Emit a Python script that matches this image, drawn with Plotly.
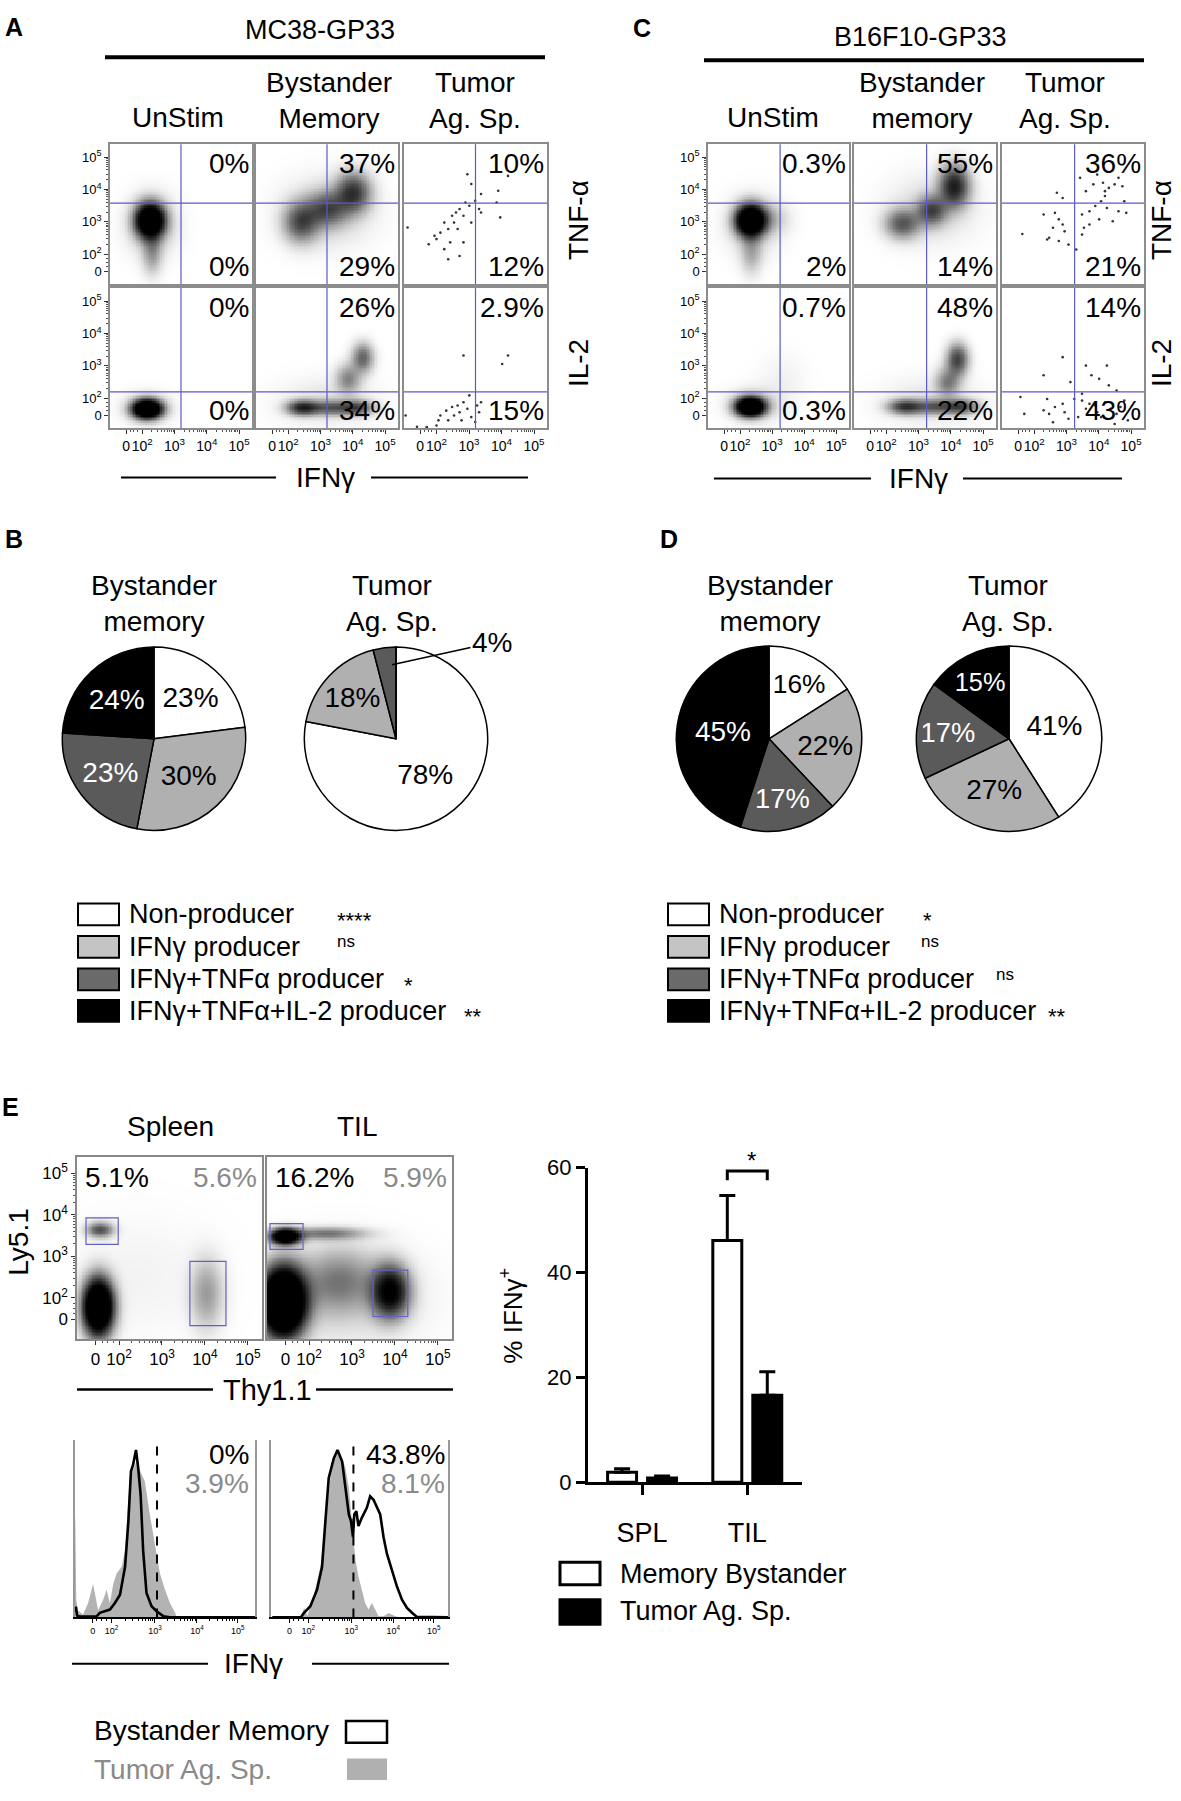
import numpy as np
import plotly.graph_objects as go

W, H = 1181, 1801
FONT = "Liberation Sans, Arial, Helvetica, sans-serif"

# ======================= DATA =======================
# ---- Panels A / C : intracellular cytokine dot plots (axis units = display decades) ----
A_title = "MC38-GP33"
C_title = "B16F10-GP33"
A_col_titles = ["UnStim", "Bystander<br>Memory", "Tumor<br>Ag. Sp."]
C_col_titles = ["UnStim", "Bystander<br>memory", "Tumor<br>Ag. Sp."]
row_markers = ["TNF-α", "IL-2"]
A_upper_pct = [["0%", "37%", "10%"], ["0%", "26%", "2.9%"]]
A_lower_pct = [["0%", "29%", "12%"], ["0%", "34%", "15%"]]
C_upper_pct = [["0.3%", "55%", "36%"], ["0.7%", "48%", "14%"]]
C_lower_pct = [["2%", "14%", "21%"], ["0.3%", "22%", "43%"]]
flow_tick_text = ["0", "10<sup>2</sup>", "10<sup>3</sup>", "10<sup>4</sup>", "10<sup>5</sup>"]
flow_x_ticks = [1.5, 2.0, 3, 4, 5]
flow_y_ticks = [1.48, 2.0, 3, 4, 5]
A_ifng_gate = 3.2
C_ifng_gate = 3.25
row_gates = [3.58, 2.2]          # TNF-α gate, IL-2 gate

# populations: (centre x, centre y, spread x, spread y, density)
A_r1c1_pops = [(2.24, 3.05, 0.28, 0.33, 1.7), (2.3, 2.1, 0.2, 0.45, 0.25), (2.3, 2.9, 0.5, 0.6, 0.14)]
A_r1c2_pops = [(4.0, 3.9, 0.35, 0.4, 0.6), (3.2, 3.4, 0.4, 0.35, 0.45), (2.4, 3.0, 0.35, 0.4, 0.5),
               (3.2, 3.3, 0.9, 0.7, 0.1)]
A_r2c1_pops = [(2.15, 1.68, 0.28, 0.18, 1.9), (2.15, 1.7, 0.45, 0.3, 0.15)]
A_r2c2_pops = [(2.45, 1.72, 0.32, 0.15, 0.7), (3.3, 1.72, 0.4, 0.15, 0.4), (4.1, 1.72, 0.35, 0.15, 0.5),
               (3.85, 2.6, 0.25, 0.3, 0.3), (4.3, 3.25, 0.22, 0.3, 0.42), (3.2, 1.9, 1.0, 0.5, 0.06)]
C_r1c1_pops = [(2.32, 3.05, 0.28, 0.3, 1.7), (2.7, 3.1, 0.45, 0.3, 0.2), (2.35, 2.1, 0.22, 0.45, 0.2),
               (2.4, 2.9, 0.55, 0.6, 0.1)]
C_r1c2_pops = [(4.1, 4.1, 0.3, 0.42, 0.72), (3.4, 3.35, 0.3, 0.3, 0.5), (2.5, 2.95, 0.35, 0.3, 0.45),
               (3.4, 3.4, 0.9, 0.7, 0.08)]
C_r2c1_pops = [(2.32, 1.75, 0.28, 0.18, 1.9), (2.4, 1.8, 0.5, 0.32, 0.15), (3.3, 2.5, 0.5, 0.6, 0.03)]
C_r2c2_pops = [(2.6, 1.75, 0.35, 0.15, 0.6), (3.5, 1.75, 0.4, 0.15, 0.4), (4.3, 1.75, 0.35, 0.15, 0.5),
               (3.9, 2.5, 0.25, 0.3, 0.32), (4.2, 3.2, 0.22, 0.32, 0.55), (3.4, 1.9, 1.0, 0.5, 0.06)]

# sparse "Tumor Ag. Sp." events
A_r1c3_x = [2.95, 3.07, 4.2, 3.9, 3.37, 2.89, 3.01, 3.19, 3.31, 2.71, 2.6, 2.48, 2.83, 2.24, 2.36, 2.12, 2.0, 1.76,
            2.24, 2.71, 2.83, 2.65, 2.54, 1.11, 3.96, 3.85, 3.37, 3.07, 2.36, 1.94, 2.42]
A_r1c3_y = [4.47, 4.17, 4.42, 3.96, 3.86, 3.6, 3.5, 3.65, 3.4, 3.4, 3.29, 3.19, 3.19, 2.98, 2.78, 2.67, 2.47, 2.31,
            2.16, 1.95, 2.37, 2.78, 2.98, 2.83, 3.14, 3.6, 3.29, 2.98, 1.85, 2.57, 2.37]
A_r2c3_x = [2.83, 4.2, 4.02, 1.05, 1.7, 2.06, 2.12, 2.3, 2.48, 2.65, 2.71, 2.83, 2.95, 3.01, 3.07, 3.25, 3.31, 3.37,
            2.54, 2.36, 2.0, 2.77, 3.19, 1.4]
A_r2c3_y = [3.32, 3.32, 3.06, 1.47, 1.11, 1.32, 1.47, 1.62, 1.73, 1.78, 1.57, 1.88, 1.68, 2.09, 1.42, 1.78, 1.57, 1.88,
            1.47, 1.32, 1.16, 1.32, 1.27, 1.12]
C_r1c3_x = [1.63, 2.29, 2.46, 2.64, 2.76, 2.88, 2.58, 2.94, 2.76, 2.4, 3.06, 3.3, 2.88, 2.7, 3.48, 3.71, 3.89, 4.07,
            4.19, 4.31, 4.49, 4.61, 4.13, 3.83, 3.6, 3.71, 4.01, 4.25, 4.43, 4.61, 4.79, 4.85, 3.54, 3.48, 3.42, 3.95,
            4.19, 4.73]
C_r1c3_y = [2.63, 3.23, 2.51, 3.28, 3.08, 2.92, 2.82, 2.71, 2.41, 2.46, 2.3, 2.15, 3.74, 3.9, 3.23, 3.33, 3.49, 3.64,
            3.8, 4.05, 4.16, 4.36, 4.21, 4.16, 3.95, 2.92, 3.08, 3.43, 3.02, 3.33, 3.64, 3.28, 2.82, 2.61, 4.36, 4.46,
            3.95, 4.1]
C_r2c3_x = [2.88, 3.6, 4.25, 3.77, 4.01, 4.31, 4.55, 2.29, 2.4, 3.12, 1.57, 1.69, 2.29, 2.46, 2.64, 2.88, 2.94, 3.06,
            3.24, 3.48, 3.6, 3.71, 3.89, 3.95, 4.07, 4.19, 4.37, 4.55, 4.67, 4.79, 4.9, 3.36, 2.58, 4.49, 3.48]
C_r2c3_y = [3.27, 3.01, 3.01, 2.71, 2.6, 2.4, 2.24, 2.71, 1.98, 2.5, 2.04, 1.52, 1.63, 1.52, 1.73, 1.83, 1.57, 1.37,
            1.98, 1.93, 1.68, 1.83, 1.78, 1.57, 1.42, 1.88, 1.68, 1.52, 1.73, 1.93, 1.32, 1.42, 1.26, 1.21, 2.14]

# ---- Panels B / D : pies ----
pie_labels = ["Non-producer", "IFNγ producer", "IFNγ+TNFα producer", "IFNγ+TNFα+IL-2 producer"]
B_bystander = [23, 30, 23, 24]
B_tumor = [78, 18, 4, 0]
D_bystander = [16, 22, 17, 45]
D_tumor = [41, 27, 17, 15]
B_sig = ["****", "ns", "*", "**"]
D_sig = ["*", "ns", "ns", "**"]
pie_titles = ["Bystander<br>memory", "Tumor<br>Ag. Sp."]

# ---- Panel E : Ly5.1 / Thy1.1 plots ----
E_titles = ["Spleen", "TIL"]
E_pct_black = ["5.1%", "16.2%"]
E_pct_grey = ["5.6%", "5.9%"]
E_spleen_pops = [(1.52, 1.78, 0.22, 0.42, 2.0), (1.56, 3.64, 0.2, 0.12, 0.5), (4.05, 2.1, 0.25, 0.55, 0.24),
                 (2.5, 2.5, 1.2, 1.0, 0.025)]
E_til_pops = [(1.4, 1.9, 0.32, 0.5, 2.5), (1.45, 3.48, 0.22, 0.12, 1.6), (2.4, 3.55, 0.6, 0.1, 0.35),
              (3.9, 2.15, 0.28, 0.4, 1.0), (2.7, 2.4, 0.6, 0.5, 0.3), (2.8, 2.0, 1.2, 0.8, 0.08)]
# gates: (x0, x1, y0, y1)
E_spleen_gates = [(1.23, 1.98, 3.29, 3.93), (3.65, 4.49, 1.33, 2.88)]
E_til_gates = [(1.09, 1.86, 3.17, 3.79), (3.49, 4.30, 1.55, 2.67)]

# ---- Panel E : IFNγ histograms (% of max) ----
hist_tick_pos = [1.52, 1.97, 3, 4, 4.97]
hist_gate = 3.05
E_hist_black_pct = ["0%", "43.8%"]
E_hist_grey_pct = ["3.9%", "8.1%"]
HL_black_x = [1.10, 1.12, 1.15, 1.21, 1.61, 1.69, 1.93, 2.05, 2.17, 2.29, 2.37, 2.43, 2.48, 2.55, 2.60, 2.66, 2.72,
              2.80, 2.92, 3.04, 3.20, 3.36, 5.38]
HL_black_y = [3, 6, 1, 0.5, 0.5, 2.6, 4.4, 8.1, 12.8, 28.5, 54.4, 82.2, 85.9, 94.3, 85, 69.3, 37.8, 13.7, 6.3, 3.5,
              0.7, 0, 0]
HL_grey_x = [1.10, 1.11, 1.13, 1.17, 1.29, 1.41, 1.53, 1.65, 1.77, 1.85, 1.93, 2.01, 2.09, 2.21, 2.29, 2.40, 2.48,
             2.56, 2.64, 2.76, 2.88, 2.96, 3.04, 3.12, 3.24, 3.36, 3.48, 3.52]
HL_grey_y = [58, 50, 10, 4, 1.5, 8, 19, 4, 10, 15.6, 8, 19, 24.8, 28.5, 37.8, 78.5, 83, 87.8, 83, 76.7, 57.8, 47, 34,
             24.8, 15.6, 8, 2.6, 0]
HR_black_x = [1.11, 1.79, 1.87, 2.02, 2.18, 2.30, 2.38, 2.46, 2.58, 2.67, 2.78, 2.86, 2.94, 2.99, 3.04, 3.07, 3.12,
              3.17, 3.25, 3.37, 3.45, 3.53, 3.61, 3.69, 3.77, 3.85, 3.97, 4.09, 4.21, 4.33, 4.45, 4.56, 5.32]
HR_black_y = [0, 0, 2.6, 6.3, 15.6, 28.5, 54.4, 78.5, 89.6, 94.3, 87.8, 72.9, 58, 54.4, 45.2, 58, 59.8, 51.5, 56.1,
              61.7, 68.2, 66.3, 61.7, 58, 45.2, 35.9, 26.6, 17.4, 10, 5.4, 2.6, 0.4, 0]
HR_grey_x = [1.11, 1.79, 1.87, 1.95, 2.10, 2.26, 2.38, 2.50, 2.58, 2.67, 2.78, 2.86, 2.94, 3.02, 3.10, 3.17, 3.25,
             3.33, 3.41, 3.49, 3.57, 3.65, 3.77, 3.89, 4.05, 4.17, 5.32]
HR_grey_y = [0, 0, 5.4, 1, 12, 28.5, 52.6, 78.5, 87.8, 92.4, 89.6, 84.1, 72.9, 54.4, 32.2, 23, 15.6, 8.1, 4.4, 8.1,
             4.4, 0.7, 0.7, 2.5, 0.7, 0, 0]
hist_legend = ["Bystander Memory", "Tumor Ag. Sp."]

# ---- Panel E : bar chart ----
bar_groups = ["SPL", "TIL"]
mem_mean = [1.9, 46.1]
mem_err = [0.7, 8.6]
tum_mean = [0.8, 16.6]
tum_err = [0.4, 4.5]
bar_ticks = [0, 20, 40, 60]
bar_sig_y = [57.6, 59.4]
bar_sig_text = "*"
bar_legend = ["Memory Bystander", "Tumor Ag. Sp."]

# ======================= BUILD =======================
def PX(px):
    return px / W


def PY(py):
    return 1 - py / H


layout = dict(width=W, height=H, margin=dict(l=0, r=0, t=0, b=0), paper_bgcolor="white",
              plot_bgcolor="white", showlegend=False, font=dict(family=FONT, color="black"),
              barmode="group", bargap=0.24, bargroupgap=0.275)
traces, shapes, annots = [], [], []
axn = [0]


def new_axes(x0, x1, y0, y1, xcfg, ycfg):
    axn[0] += 1
    s = "" if axn[0] == 1 else str(axn[0])
    layout["xaxis" + s] = dict(domain=[PX(x0), PX(x1)], anchor="y" + s, **xcfg)
    layout["yaxis" + s] = dict(domain=[PY(y1), PY(y0)], anchor="x" + s, **ycfg)
    return "x" + s, "y" + s


def txt(text, x, y, size=27, color="black", xanchor="center", yanchor="middle", angle=0, xref="paper", yref="paper"):
    if xref == "paper":
        x = PX(x)
    if yref == "paper":
        y = PY(y)
    annots.append(dict(text=text, x=x, y=y, xref=xref, yref=yref, xanchor=xanchor, yanchor=yanchor,
                       showarrow=False, textangle=angle, font=dict(size=size, color=color, family=FONT)))


def hline(x0, x1, y, w=3, color="black"):
    shapes.append(dict(type="line", xref="paper", yref="paper", x0=PX(x0), x1=PX(x1), y0=PY(y), y1=PY(y),
                       line=dict(color=color, width=w)))


def rect(x0, x1, y0, y1, fill, lw, lc="black"):
    shapes.append(dict(type="rect", xref="paper", yref="paper", x0=PX(x0), x1=PX(x1), y0=PY(y1), y1=PY(y0),
                       fillcolor=fill, line=dict(color=lc, width=lw)))


minor_vals = [d + np.log10(k) for d in (2, 3, 4) for k in range(2, 10)] + [1.62, 1.74, 1.86]

GREY = [[0, "rgb(255,255,255)"], [0.04, "rgb(236,236,236)"], [0.15, "rgb(190,190,190)"],
        [0.35, "rgb(120,120,120)"], [0.6, "rgb(55,55,55)"], [0.85, "rgb(12,12,12)"], [1, "rgb(0,0,0)"]]


def density(pops, xr, yr, n):
    xs = np.linspace(xr[0], xr[1], n)
    ys = np.linspace(yr[0], yr[1], n)
    X, Y = np.meshgrid(xs, ys)
    Z = np.zeros_like(X)
    for cx, cy, sx, sy, w in pops:
        Z += w * np.exp(-0.5 * (((X - cx) / sx) ** 2 + ((Y - cy) / sy) ** 2))
    return xs, ys, np.round(np.clip(Z, 0, 1), 3)


def flow_axis(rng, ticks, show, size, frame="#8c8c8c"):
    return dict(range=rng, tickmode="array", tickvals=ticks, ticktext=flow_tick_text, showticklabels=show,
                tickangle=0, ticks="outside" if show else "", ticklen=4, tickwidth=1, tickcolor="#333",
                showline=True, linecolor=frame, linewidth=1.5, mirror=True, showgrid=False, zeroline=False,
                fixedrange=True, tickfont=dict(size=size, color="black", family=FONT),
                minor=dict(tickmode="array", tickvals=minor_vals, ticks="outside" if show else "", ticklen=2,
                           tickcolor="#555", showgrid=False))


FXR, FYR = [1.0, 5.4], [1.08, 5.4]


def flow_panel(x0, x1, y0, y1, pops, pts, gx, gy, up, lo, show_x, show_y):
    xa, ya = new_axes(x0, x1, y0, y1, flow_axis(FXR, flow_x_ticks, show_x, 14),
                      flow_axis(FYR, flow_y_ticks, show_y, 13))
    if pops:
        xs, ys, z = density(pops, FXR, FYR, 90)
        traces.append(go.Heatmap(x=xs, y=ys, z=z, xaxis=xa, yaxis=ya, colorscale=GREY, zmin=0, zmax=1,
                                 showscale=False, hoverinfo="skip"))
    if pts:
        traces.append(go.Scatter(x=pts[0], y=pts[1], mode="markers", xaxis=xa, yaxis=ya, hoverinfo="skip",
                                 marker=dict(size=2.6, color="#333333")))
    qc = "#5b5bc6"
    shapes.append(dict(type="line", xref=xa, yref=ya + " domain", x0=gx, x1=gx, y0=0, y1=1,
                       line=dict(color=qc, width=1.2)))
    shapes.append(dict(type="line", xref=xa + " domain", yref=ya, x0=0, x1=1, y0=gy, y1=gy,
                       line=dict(color=qc, width=1.2)))
    txt(up, 0.995, 0.99, 28, xanchor="right", yanchor="top", xref=xa + " domain", yref=ya + " domain")
    txt(lo, 0.995, 0.0, 28, xanchor="right", yanchor="bottom", xref=xa + " domain", yref=ya + " domain")


A_cols_px = [(110, 252), (256, 398), (404, 547)]
C_cols_px = [(708, 849), (854, 996), (1002, 1144)]
rows_px = [(134, 276), (280, 422)]
A_pops = [[A_r1c1_pops, A_r1c2_pops, None], [A_r2c1_pops, A_r2c2_pops, None]]
A_pts = [[None, None, (A_r1c3_x, A_r1c3_y)], [None, None, (A_r2c3_x, A_r2c3_y)]]
C_pops = [[C_r1c1_pops, C_r1c2_pops, None], [C_r2c1_pops, C_r2c2_pops, None]]
C_pts = [[None, None, (C_r1c3_x, C_r1c3_y)], [None, None, (C_r2c3_x, C_r2c3_y)]]

for r in range(2):
    for c in range(3):
        flow_panel(*A_cols_px[c], *rows_px[r], A_pops[r][c], A_pts[r][c], A_ifng_gate, row_gates[r],
                   A_upper_pct[r][c], A_lower_pct[r][c], r == 1, c == 0)
        flow_panel(*C_cols_px[c], *rows_px[r], C_pops[r][c], C_pts[r][c], C_ifng_gate, row_gates[r],
                   C_upper_pct[r][c], C_lower_pct[r][c], r == 1, c == 0)

# headers A / C
txt("<b>A</b>", 3, 15, 25, xanchor="left")
txt("<b>C</b>", 642, 16, 25)
txt(A_title, 320, 18, 27)
txt(C_title, 920, 25, 27)
hline(105, 545, 46, 4)
hline(704, 1144, 49, 4)
for c in range(3):
    txt(A_col_titles[c], [178, 329, 475][c], 107 if c == 0 else 90, 28)
    txt(C_col_titles[c], [773, 922, 1065][c], 107 if c == 0 else 90, 28)
for r, yy in enumerate([211, 356]):
    txt(row_markers[r], 578, yy, 28, angle=-90)
    txt(row_markers[r], 1161, yy, 28, angle=-90)
txt("IFNγ", 325, 472, 28)
hline(121, 276, 472, 2)
hline(371, 528, 472, 2)
txt("IFNγ", 918, 473, 28)
hline(714, 871, 473, 2)
hline(963, 1122, 473, 2)

# ---- pies ----
PIE_COLORS = ["#ffffff", "#b0b0b0", "#5a5a5a", "#000000"]
TXT_COLORS = ["black", "black", "white", "white"]


def pie(vals, cx, cy, r, texts):
    traces.append(go.Pie(values=vals, labels=pie_labels, sort=False, direction="clockwise", rotation=0,
                         domain=dict(x=[PX(cx - r), PX(cx + r)], y=[PY(cy + r), PY(cy - r)]),
                         marker=dict(colors=PIE_COLORS, line=dict(color="black", width=1.5)),
                         text=texts, textinfo="text", textposition="inside", insidetextorientation="horizontal",
                         textfont=dict(size=28, color=TXT_COLORS, family=FONT), hoverinfo="skip",
                         showlegend=False))


pct = lambda vs: [f"{v}%" for v in vs]
pie(B_bystander, 154, 737, 93, pct(B_bystander))
pie(B_tumor, 396, 737, 93, ["78%", "18%", "", ""])
pie(D_bystander, 769, 737, 94, pct(D_bystander))
pie(D_tumor, 1009, 737, 94, pct(D_tumor))
annots.append(dict(text=f"{B_tumor[2]}%", x=PX(392), y=PY(662), xref="paper", yref="paper", showarrow=True,
                   arrowhead=0, arrowwidth=1.5, arrowcolor="black", ax=100, ay=-22, xanchor="center",
                   font=dict(size=28, family=FONT, color="black")))
txt("<b>B</b>", 14, 534, 25)
txt("<b>D</b>", 669, 534, 25)
txt(pie_titles[0], 154, 600, 28)
txt(pie_titles[1], 392, 600, 28)
txt(pie_titles[0], 770, 600, 28)
txt(pie_titles[1], 1008, 600, 28)

LEG_FILL = ["#ffffff", "#c4c4c4", "#6a6a6a", "#000000"]
leg_rows = [915, 948, 981, 1013]
for i, yy in enumerate(leg_rows):
    rect(78, 119, yy - 11, yy + 11, LEG_FILL[i], 2)
    txt(pie_labels[i], 127, yy, 27, xanchor="left")
    rect(668, 709, yy - 11, yy + 11, LEG_FILL[i], 2)
    txt(pie_labels[i], 717, yy, 27, xanchor="left")
B_sig_x = [335, 335, 402, 462]
D_sig_x = [921, 919, 994, 1046]
for i, yy in enumerate(leg_rows):
    small = B_sig[i] == "ns"
    txt(B_sig[i], B_sig_x[i], yy + (-5 if small else 6), 17 if small else 22, xanchor="left")
    small = D_sig[i] == "ns"
    txt(D_sig[i], D_sig_x[i], yy + (-5 if small else 6), 17 if small else 22, xanchor="left")

# ---- E : dot plots ----
EXR, EYR = [1.02, 5.33], [1.0, 5.4]
E_x_ticks = [1.45, 2.0, 3, 4, 5]
txt("<b>E</b>", 10, 1110, 25)
for k, (x0, x1, pops, gates) in enumerate([(77, 262, E_spleen_pops, E_spleen_gates),
                                           (267, 452, E_til_pops, E_til_gates)]):
    xa, ya = new_axes(x0, x1, 1161, 1346, flow_axis(EXR, E_x_ticks, True, 17, "#888888"),
                      flow_axis(EYR, flow_y_ticks, k == 0, 17, "#888888"))
    xs, ys, z = density(pops, EXR, EYR, 130)
    traces.append(go.Heatmap(x=xs, y=ys, z=z, xaxis=xa, yaxis=ya, colorscale=GREY, zmin=0, zmax=1,
                             showscale=False, hoverinfo="skip"))
    for g in gates:
        shapes.append(dict(type="rect", xref=xa, yref=ya, x0=g[0], x1=g[1], y0=g[2], y1=g[3],
                           line=dict(color="#6262c4", width=1.2)))
    txt(E_titles[k], [170, 357][k], 1130, 28)
    txt(E_pct_black[k], [83, 273][k], 1182, 28, xanchor="left")
    txt(E_pct_grey[k], [259, 449][k], 1182, 28, color="#8a8a8a", xanchor="right")
txt("Ly5.1", 19, 1247, 28, angle=-90)
txt("Thy1.1", 267, 1397, 29)
hline(77, 213, 1397, 2.5)
hline(316, 453, 1397, 2.5)

# ---- E : histograms ----
for k, (x0, x1, rng, bx, by, gxs, gys) in enumerate([
        (75, 255, [1.1, 5.38], HL_black_x, HL_black_y, HL_grey_x, HL_grey_y),
        (271, 448, [1.08, 5.31], HR_black_x, HR_black_y, HR_grey_x, HR_grey_y)]):
    xcfg = dict(range=rng, tickmode="array", tickvals=hist_tick_pos, ticktext=flow_tick_text, ticks="outside",
                tickangle=0, ticklen=4, tickcolor="black", showline=True, linecolor="black", linewidth=1.5,
                showgrid=False, zeroline=False, tickfont=dict(size=9, family=FONT),
                minor=dict(tickmode="array", tickvals=minor_vals, ticks="outside", ticklen=2, tickcolor="black"))
    ycfg = dict(range=[0, 100], showline=True, linecolor="#999999", linewidth=1.5, mirror=True, showgrid=False,
                zeroline=False, showticklabels=False, ticks="")
    xa, ya = new_axes(x0, x1, 1448, 1628, xcfg, ycfg)
    traces.append(go.Scatter(x=gxs, y=gys, mode="lines", fill="tozeroy", fillcolor="#b3b3b3",
                             line=dict(width=0, color="#b3b3b3"), xaxis=xa, yaxis=ya, hoverinfo="skip"))
    traces.append(go.Scatter(x=bx, y=by, mode="lines", line=dict(width=2.6, color="black"),
                             xaxis=xa, yaxis=ya, hoverinfo="skip"))
    shapes.append(dict(type="line", xref=xa, yref=ya + " domain", x0=hist_gate, x1=hist_gate, y0=0, y1=1,
                       line=dict(color="black", width=2, dash="dash")))
    rx = [251, 447][k]
    txt(E_hist_black_pct[k], rx, 1463, 28, xanchor="right")
    txt(E_hist_grey_pct[k], rx, 1492, 28, color="#8a8a8a", xanchor="right")
txt("IFNγ", 253, 1675, 28)
hline(72, 208, 1675, 2)
hline(312, 449, 1675, 2)
txt(hist_legend[0], 92, 1743, 28, xanchor="left")
rect(346, 387, 1733, 1755, "white", 2.5)
txt(hist_legend[1], 92, 1782, 28, color="#8a8a8a", xanchor="left")
rect(347, 387, 1771, 1793, "#b0b0b0", 0, "#b0b0b0")

# ---- E : bar chart ----
bx_cfg = dict(type="category", range=[-0.514, 1.52], showline=True, linecolor="black", linewidth=3,
              ticks="outside", ticklen=10, tickwidth=3, tickcolor="black", showgrid=False, zeroline=False,
              tickfont=dict(size=27, family=FONT), ticklabelstandoff=14, tickangle=0)
by_cfg = dict(range=[0, 60], tickmode="array", tickvals=bar_ticks, showline=True, linecolor="black", linewidth=3,
              ticks="outside", ticklen=9, tickwidth=3, tickcolor="black", showgrid=False, zeroline=False,
              tickfont=dict(size=22, family=FONT))
xa, ya = new_axes(588, 802, 1172, 1491, bx_cfg, by_cfg)
traces.append(go.Bar(x=bar_groups, y=mem_mean, xaxis=xa, yaxis=ya, name=bar_legend[0],
                     marker=dict(color="white", line=dict(color="black", width=3)),
                     error_y=dict(type="data", array=mem_err, arrayminus=[0, 0], symmetric=False, color="black",
                                  thickness=3, width=8), hoverinfo="skip"))
traces.append(go.Bar(x=bar_groups, y=tum_mean, xaxis=xa, yaxis=ya, name=bar_legend[1],
                     marker=dict(color="black", line=dict(color="black", width=3)),
                     error_y=dict(type="data", array=tum_err, arrayminus=[0, 0], symmetric=False, color="black",
                                  thickness=3, width=8), hoverinfo="skip"))
bl, br = 1 - 0.19, 1 + 0.19
shapes.append(dict(type="path", xref=xa, yref=ya,
                   path=f"M {bl},{bar_sig_y[0]} L {bl},{bar_sig_y[1]} L {br},{bar_sig_y[1]} L {br},{bar_sig_y[0]}",
                   line=dict(color="black", width=3)))
txt(bar_sig_text, 751, 1165, 24)
txt("% IFNγ<sup>+</sup>", 512, 1322, 26, angle=-90)
rect(560, 600, 1572, 1595, "white", 3)
txt(bar_legend[0], 618, 1584, 27, xanchor="left")
rect(560, 600, 1610, 1635, "black", 3)
txt(bar_legend[1], 618, 1622, 27, xanchor="left")

layout["shapes"] = shapes
layout["annotations"] = annots
fig = go.Figure(data=traces, layout=layout)
fig.write_html("out.html", config={"displayModeBar": False},
               post_script="document.body.style.margin='0px';document.body.style.overflow='hidden';")
